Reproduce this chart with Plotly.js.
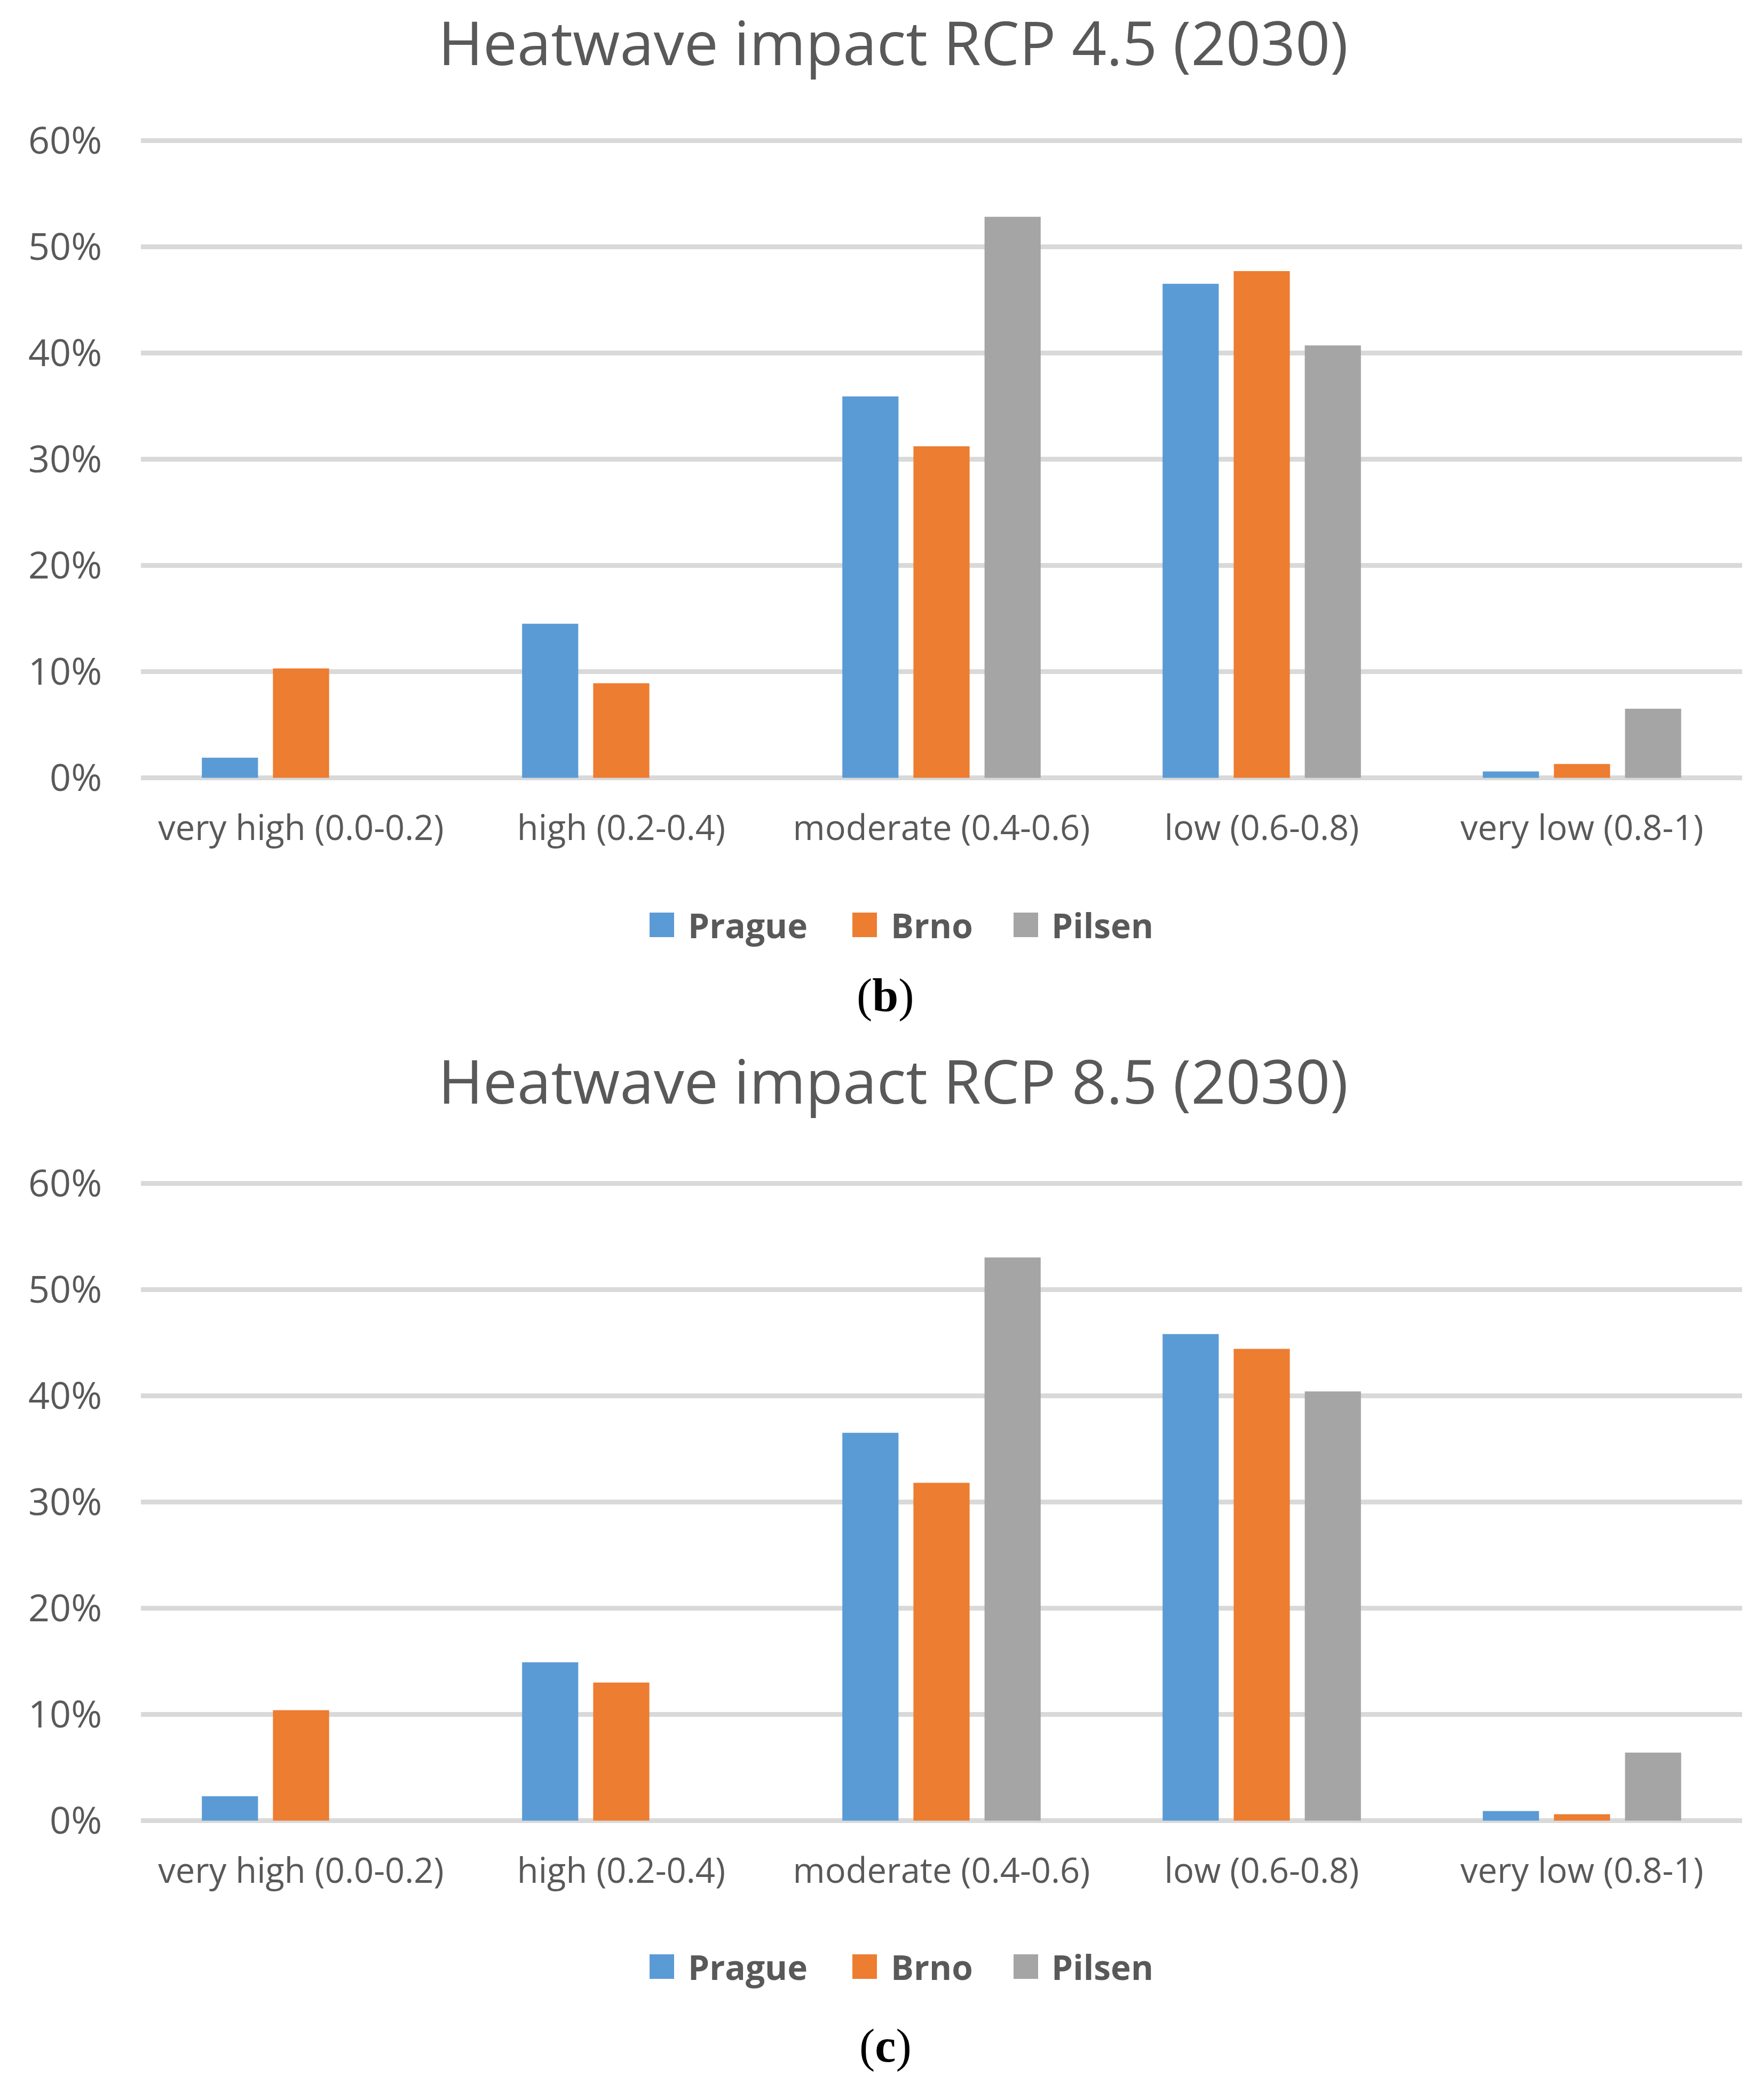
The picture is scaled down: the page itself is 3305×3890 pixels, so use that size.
<!DOCTYPE html>
<html>
<head>
<meta charset="utf-8">
<script src="https://cdn.plot.ly/plotly-3.0.1.min.js"></script>
<style>html,body{margin:0;padding:0;background:#fff;}#chart{width:3305px;height:3890px;}</style>
</head>
<body>
<div id="chart"></div>
<script>
// ---- data ----
const categories = ["very high (0.0-0.2)", "high (0.2-0.4)", "moderate (0.4-0.6)", "low (0.6-0.8)", "very low (0.8-1)"];
const seriesNames = ["Prague", "Brno", "Pilsen"];
const seriesColors = ["#5B9BD5", "#ED7D31", "#A5A5A5"];
const titles = ["Heatwave impact RCP 4.5 (2030)", "Heatwave impact RCP 8.5 (2030)"];
const captions = ["b", "c"];
// RCP 4.5 (2030), share of area
const rcp45Prague = [0.019, 0.145, 0.359, 0.465, 0.006];
const rcp45Brno   = [0.103, 0.089, 0.312, 0.477, 0.013];
const rcp45Pilsen = [0.000, 0.000, 0.528, 0.407, 0.065];
// RCP 8.5 (2030)
const rcp85Prague = [0.023, 0.149, 0.365, 0.458, 0.009];
const rcp85Brno   = [0.104, 0.130, 0.318, 0.444, 0.006];
const rcp85Pilsen = [0.000, 0.000, 0.530, 0.404, 0.064];
const yTickVals = [0, 0.1, 0.2, 0.3, 0.4, 0.5, 0.6];

// ---- layout helpers ----
const W = 3305, H = 3890;
const px = x => x / W;
const py = y => 1 - y / H;
const txt = '#595959';

const panels = [
  {data: [rcp45Prague, rcp45Brno, rcp45Pilsen], top: 243.1, bottom: 1477.4, titleY: 78, legendY: 1733, capY: 1866},
  {data: [rcp85Prague, rcp85Brno, rcp85Pilsen], top: 2197.1, bottom: 3431.4, titleY: 2024, legendY: 3685, capY: 3833}
];

const traces = [];
const annotations = [];
const shapes = [];
const layout = {
  width: W, height: H,
  margin: {l: 0, r: 0, t: 0, b: 0},
  paper_bgcolor: '#ffffff', plot_bgcolor: '#ffffff',
  barmode: 'group', bargap: 0.334, bargroupgap: 0.21,
  showlegend: false,
  font: {family: 'Open Sans', color: txt}
};

const legendSwatchX = [1217, 1597, 1899];
const legendTextX = [1287, 1667, 1968];

panels.forEach((p, i) => {
  const sfx = i === 0 ? '' : '2';
  p.data.forEach((vals, s) => {
    traces.push({
      type: 'bar', x: categories, y: vals, name: seriesNames[s],
      marker: {color: seriesColors[s], line: {width: 0}},
      xaxis: 'x' + sfx, yaxis: 'y' + sfx,
      hoverinfo: 'skip'
    });
  });
  layout['xaxis' + sfx] = {
    domain: [px(264), px(3264)], anchor: 'y' + sfx,
    type: 'category', categoryorder: 'array', categoryarray: categories,
    showgrid: false, showline: false, zeroline: false, ticks: '',
    tickfont: {family: 'Open Sans', size: 65, color: txt},
    ticklabelstandoff: 31, fixedrange: true
  };
  layout['yaxis' + sfx] = {
    domain: [py(p.bottom), py(p.top)], anchor: 'x' + sfx,
    range: [-0.01, 0.61], tickvals: yTickVals, tickformat: '.0%',
    showgrid: true, gridcolor: '#D9D9D9', gridwidth: 9,
    zeroline: false, showline: false, ticks: '',
    tickfont: {family: 'Open Sans', size: 70, color: txt},
    ticklabelstandoff: 72, fixedrange: true
  };
  annotations.push({
    xref: 'paper', yref: 'paper', x: px(1674), y: py(p.titleY),
    xanchor: 'center', yanchor: 'middle', showarrow: false,
    text: titles[i], font: {family: 'Open Sans', size: 114, color: txt}
  });
  annotations.push({
    xref: 'paper', yref: 'paper', x: px(1659), y: py(p.capY),
    xanchor: 'center', yanchor: 'middle', showarrow: false,
    text: '(<b>' + captions[i] + '</b>)', font: {family: 'Liberation Serif', size: 88, color: '#000000'}
  });
  seriesNames.forEach((n, s) => {
    shapes.push({
      type: 'rect', xref: 'paper', yref: 'paper',
      x0: px(legendSwatchX[s]), x1: px(legendSwatchX[s] + 46),
      y0: py(p.legendY - 23), y1: py(p.legendY + 23),
      fillcolor: seriesColors[s], line: {width: 0}
    });
    annotations.push({
      xref: 'paper', yref: 'paper', x: px(legendTextX[s]), y: py(p.legendY),
      xanchor: 'left', yanchor: 'middle', showarrow: false,
      text: '<b>' + n + '</b>', font: {family: 'Open Sans', size: 64, color: txt}
    });
  });
});
layout.annotations = annotations;
layout.shapes = shapes;

Plotly.newPlot('chart', traces, layout, {displayModeBar: false, staticPlot: true});
</script>
</body>
</html>
